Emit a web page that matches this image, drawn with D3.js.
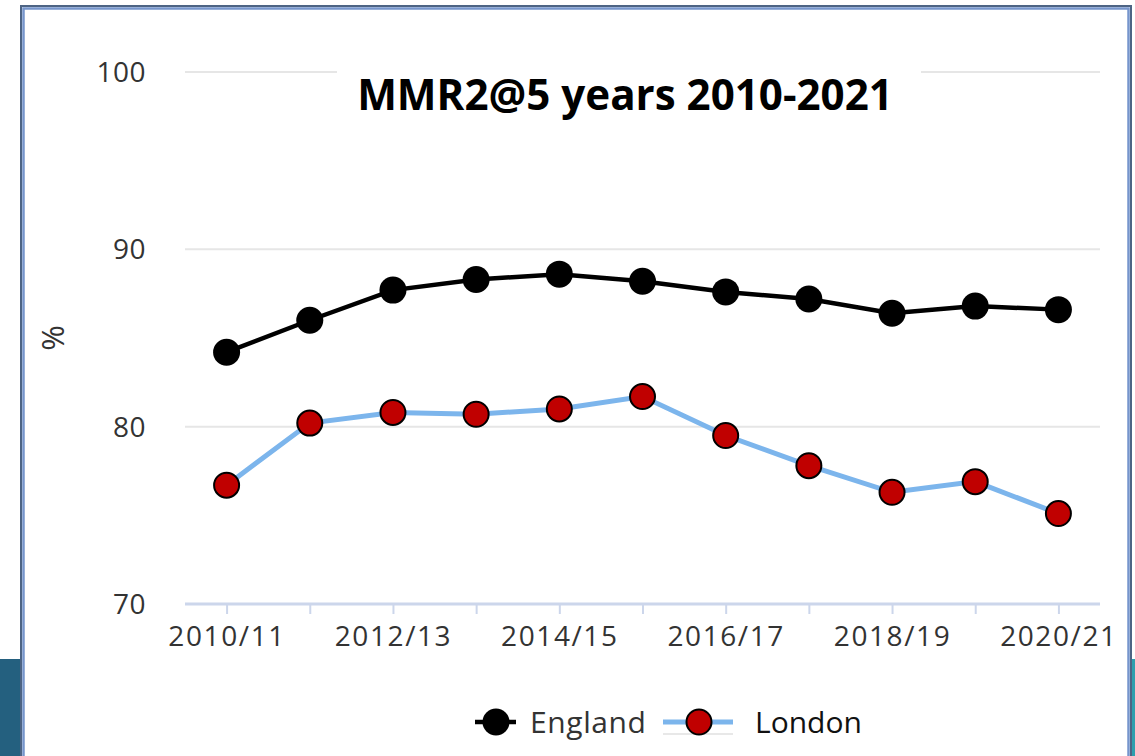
<!DOCTYPE html>
<html>
<head>
<meta charset="utf-8">
<script src="https://d3js.org/d3.v7.min.js"></script>
<style>
  html, body { margin: 0; padding: 0; background: #fff; }
  svg { display: block; }
  text { font-family: "Open Sans", "DejaVu Sans", sans-serif; }
</style>
</head>
<body>
<svg width="1135" height="756"></svg>
<script>
const years = ["2010/11", "2011/12", "2012/13", "2013/14", "2014/15", "2015/16",
               "2016/17", "2017/18", "2018/19", "2019/20", "2020/21"];
const england = [84.2, 86.0, 87.7, 88.3, 88.6, 88.2, 87.6, 87.2, 86.4, 86.8, 86.6];
const london = [76.7, 80.2, 80.8, 80.7, 81.0, 81.7, 79.5, 77.8, 76.3, 76.9, 75.1];
const yTicks = [70, 80, 90, 100];
const xLabels = ["2010/11", "2012/13", "2014/15", "2016/17", "2018/19", "2020/21"];
const title = "MMR2@5 years 2010-2021";

var svg = d3.select("svg");

// slide background bits peeking out at the bottom corners
svg.append("rect").attr("x", 0).attr("y", 659).attr("width", 21).attr("height", 97).attr("fill", "#24607f");
svg.append("rect").attr("x", 1130).attr("y", 659).attr("width", 5).attr("height", 97).attr("fill", "#2e9fae");

// picture frame
svg.append("rect").attr("x", 21).attr("y", 6).attr("width", 1110).attr("height", 800)
    .attr("fill", "#fff").attr("stroke", "#4d6484").attr("stroke-width", 2);
svg.append("rect").attr("x", 23.5).attr("y", 8.5).attr("width", 1105).attr("height", 800)
    .attr("fill", "none").attr("stroke", "#7695cc").attr("stroke-width", 2.5);

var x = d3.scalePoint().domain(years).range([185, 1100]).padding(0.5);
var y = d3.scaleLinear().domain([70, 100]).range([604, 72]);

// grid
svg.append("g").selectAll("line")
  .data(yTicks.filter(d => d > 70))
  .enter().append("line")
    .attr("x1", 185).attr("x2", 1100)
    .attr("y1", d => y(d)).attr("y2", d => y(d))
    .attr("stroke", "#e6e6e6").attr("stroke-width", 2);

// y axis labels
svg.append("g").selectAll("text")
  .data(yTicks)
  .enter().append("text")
    .attr("x", 146).attr("y", d => y(d))
    .attr("dy", "0.36em")
    .attr("text-anchor", "end")
    .attr("fill", "#333")
    .style("font-size", "28px")
    .style("letter-spacing", "0.5px")
    .text(d => d);

svg.append("text")
    .attr("transform", "translate(64," + y(85) + ") rotate(-90)")
    .attr("text-anchor", "middle")
    .attr("fill", "#333")
    .style("font-size", "31px")
    .text("%");

// x axis
var xAxis = svg.append("g").attr("transform", "translate(0," + y(70) + ")")
    .call(d3.axisBottom(x).tickSizeOuter(0).tickSize(10).tickPadding(12)
      .tickFormat(d => xLabels.includes(d) ? d : ""));
xAxis.select(".domain").attr("d", "M185,0H1100").attr("stroke", "#ccd6eb").attr("stroke-width", 3);
xAxis.selectAll(".tick line").attr("stroke", "#ccd6eb").attr("stroke-width", 2);
xAxis.selectAll(".tick text")
    .attr("fill", "#333")
    .style("font-family", "'Open Sans', sans-serif")
    .style("font-size", "28px")
    .style("letter-spacing", "1.6px");

// title with white box behind it
var titleG = svg.append("g");
var titleBg = titleG.append("rect").attr("fill", "#fff");
var titleText = titleG.append("text")
    .attr("x", 625).attr("y", 110)
    .attr("text-anchor", "middle")
    .attr("fill", "#000")
    .style("font-size", "38px")
    .style("font-weight", "bold")
    .text(title);
var tw = titleText.node().getComputedTextLength();
titleText.style("font-size", (38 * 536 / tw) + "px");
titleBg.attr("x", 337).attr("y", 60).attr("width", 584).attr("height", 30);

// series
var line = d3.line().x((d, i) => x(years[i])).y(d => y(d));

svg.append("path").datum(england)
    .attr("d", line).attr("fill", "none").attr("stroke", "#000").attr("stroke-width", 4.5);
svg.append("path").datum(london)
    .attr("d", line).attr("fill", "none").attr("stroke", "#7cb5ec").attr("stroke-width", 5);

svg.append("g").selectAll("circle")
  .data(england)
  .enter().append("circle")
    .attr("cx", (d, i) => x(years[i])).attr("cy", d => y(d))
    .attr("r", 13.5).attr("fill", "#000");

svg.append("g").selectAll("circle")
  .data(london)
  .enter().append("circle")
    .attr("cx", (d, i) => x(years[i])).attr("cy", d => y(d))
    .attr("r", 12.5).attr("fill", "#c00000")
    .attr("stroke", "#000").attr("stroke-width", 2);

// legend
var legend = svg.append("g").attr("transform", "translate(0,722)");
legend.append("line").attr("x1", 475).attr("x2", 516).attr("stroke", "#000").attr("stroke-width", 4.5);
legend.append("circle").attr("cx", 496).attr("r", 13.5).attr("fill", "#000");
legend.append("text").attr("x", 530).attr("dy", "0.36em")
    .attr("fill", "#333").style("font-size", "30px").style("letter-spacing", "0.6px").text("England");

legend.append("line").attr("x1", 663).attr("x2", 733).attr("y1", 12).attr("y2", 12)
    .attr("stroke", "#e0e0e0").attr("stroke-width", 1.5);
legend.append("line").attr("x1", 663).attr("x2", 733).attr("stroke", "#7cb5ec").attr("stroke-width", 5);
legend.append("circle").attr("cx", 699).attr("r", 12.5).attr("fill", "#c00000")
    .attr("stroke", "#000").attr("stroke-width", 2);
legend.append("text").attr("x", 755).attr("dy", "0.36em")
    .attr("fill", "#111").style("font-size", "30px").text("London");
</script>
</body>
</html>
